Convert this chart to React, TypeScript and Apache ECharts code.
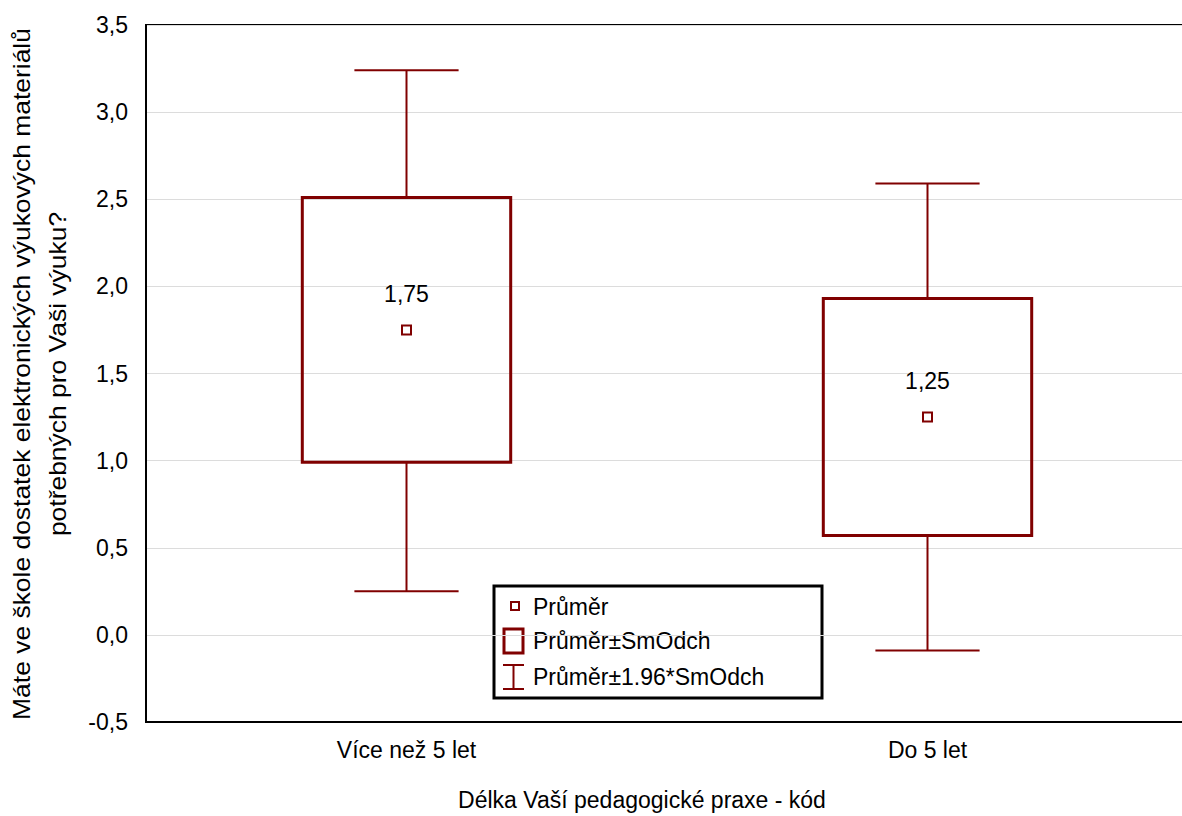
import React, { useEffect, useRef } from "react";
import * as echarts from "echarts";

const categories = ["Více než 5 let", "Do 5 let"];
const means = [1.75, 1.25];
const sdLow = [0.99, 0.57];
const sdHigh = [2.51, 1.93];
const ciLow = [0.25, -0.09];
const ciHigh = [3.24, 2.59];
const meanLabels = ["1,75", "1,25"];
const yTitle = "Máte ve škole dostatek elektronických výukových materiálů\npotřebných pro Vaši výuku?";
const xTitle = "Délka Vaší pedagogické praxe - kód";
const legendItems = ["Průměr", "Průměr±SmOdch", "Průměr±1.96*SmOdch"];

const C = "#800000";
const FONT = "'Liberation Sans', Arial, sans-serif";
const FS = 23;

export default function App() {
  const ref = useRef<HTMLDivElement>(null);
  useEffect(() => {
    if (!ref.current) return;
    const chart = echarts.init(ref.current, undefined, { renderer: "svg" });
    const data = categories.map((c, i) => [i, means[i], sdLow[i], sdHigh[i], ciLow[i], ciHigh[i], meanLabels[i]]);
    chart.setOption({
      animation: false,
      backgroundColor: "#fff",
      grid: {
        left: 146,
        right: 2,
        top: 25,
        bottom: 94,
        show: true,
        borderColor: "#000",
        borderWidth: 2,
        backgroundColor: "transparent",
      },
      xAxis: {
        type: "category",
        data: categories,
        axisLine: { onZero: false, lineStyle: { color: "#000", width: 2 } },
        axisTick: { inside: true, length: 5, alignWithLabel: true, lineStyle: { color: "#000" } },
        axisLabel: { color: "#000", fontSize: FS, fontFamily: FONT, margin: 16 },
        splitLine: { show: false },
      },
      yAxis: {
        type: "value",
        min: -0.5,
        max: 3.5,
        interval: 0.5,
        axisLine: { show: true, lineStyle: { color: "#000", width: 2 } },
        axisTick: { show: false },
        axisLabel: {
          color: "#000",
          fontSize: FS,
          fontFamily: FONT,
          margin: 18,
          formatter: (v: number) => v.toFixed(1).replace(".", ","),
        },
        splitLine: { show: true, lineStyle: { color: "#dcdcdc", width: 1 } },
      },
      series: [
        {
          type: "custom",
          data,
          encode: { x: 0, y: [1, 2, 3, 4, 5] },
          renderItem: (params: any, api: any) => {
            const i = api.value(0);
            const band = api.size([1, 0])[0];
            const [cx, yMean] = api.coord([i, api.value(1)]);
            const yLo = api.coord([i, api.value(2)])[1];
            const yHi = api.coord([i, api.value(3)])[1];
            const yWlo = api.coord([i, api.value(4)])[1];
            const yWhi = api.coord([i, api.value(5)])[1];
            const bw = band * 0.4;
            const cw = band * 0.2;
            const ls = { stroke: C, lineWidth: 2 };
            return {
              type: "group",
              children: [
                { type: "line", shape: { x1: cx, y1: yHi, x2: cx, y2: yWhi }, style: ls },
                { type: "line", shape: { x1: cx, y1: yLo, x2: cx, y2: yWlo }, style: ls },
                { type: "line", shape: { x1: cx - cw / 2, y1: yWhi, x2: cx + cw / 2, y2: yWhi }, style: ls },
                { type: "line", shape: { x1: cx - cw / 2, y1: yWlo, x2: cx + cw / 2, y2: yWlo }, style: ls },
                {
                  type: "rect",
                  shape: { x: cx - bw / 2, y: yHi, width: bw, height: yLo - yHi },
                  style: { stroke: C, lineWidth: 3, fill: "none" },
                },
                {
                  type: "rect",
                  shape: { x: cx - 4.5, y: yMean - 4.5, width: 9, height: 9 },
                  style: { stroke: C, lineWidth: 2, fill: "#fff" },
                },
                {
                  type: "text",
                  style: {
                    x: cx,
                    y: yMean - 36,
                    text: api.value(6),
                    fill: "#000",
                    font: `${FS}px ${FONT}`,
                    align: "center",
                    verticalAlign: "middle",
                  },
                },
              ],
            };
          },
        },
      ],
      graphic: [
        {
          type: "text",
          x: 40,
          y: 374,
          rotation: Math.PI / 2,
          scaleX: 1.15,
          style: {
            text: yTitle,
            fill: "#000",
            font: `${FS}px ${FONT}`,
            align: "center",
            verticalAlign: "middle",
            lineHeight: 36,
          },
        },
        {
          type: "text",
          x: 642,
          y: 800,
          style: {
            text: xTitle,
            fill: "#000",
            font: `${FS}px ${FONT}`,
            align: "center",
            verticalAlign: "middle",
          },
        },
        {
          type: "group",
          z: 100,
          children: [
            {
              type: "rect",
              shape: { x: 494, y: 586, width: 328, height: 112 },
              style: { fill: "#fff", stroke: "#000", lineWidth: 3 },
            },
            {
              type: "rect",
              shape: { x: 511, y: 602, width: 8, height: 8 },
              style: { fill: "#fff", stroke: C, lineWidth: 2 },
            },
            {
              type: "rect",
              shape: { x: 504, y: 629, width: 19, height: 24 },
              style: { fill: "#fff", stroke: C, lineWidth: 3 },
            },
            { type: "line", shape: { x1: 503, y1: 665, x2: 524, y2: 665 }, style: { stroke: C, lineWidth: 2 } },
            { type: "line", shape: { x1: 503, y1: 689, x2: 524, y2: 689 }, style: { stroke: C, lineWidth: 2 } },
            { type: "line", shape: { x1: 513.5, y1: 665, x2: 513.5, y2: 689 }, style: { stroke: C, lineWidth: 2 } },
            ...legendItems.map((t, k) => ({
              type: "text",
              x: 533,
              y: [607, 641, 677][k],
              style: { text: t, fill: "#000", font: `${FS}px ${FONT}`, align: "left", verticalAlign: "middle" },
            })),
          ],
        },
      ],
    });
    return () => chart.dispose();
  }, []);
  return (
    <div style={{ position: "fixed", left: 0, top: 0, width: 1182, height: 816, overflow: "hidden", background: "#fff" }}>
      <div ref={ref} style={{ width: 1190, height: 816 }} />
    </div>
  );
}
